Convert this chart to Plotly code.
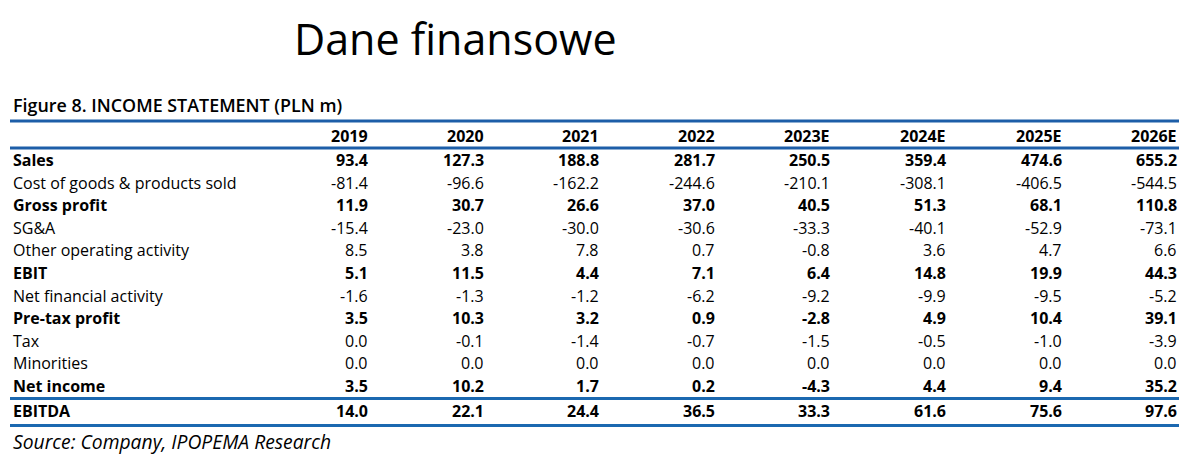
import plotly.graph_objects as go

# table contents
years = ["2019", "2020", "2021", "2022", "2023E", "2024E", "2025E", "2026E"]
labels = ["Sales", "Cost of goods & products sold", "Gross profit", "SG&A",
          "Other operating activity", "EBIT", "Net financial activity",
          "Pre-tax profit", "Tax", "Minorities", "Net income", "EBITDA"]
bold_rows = ["Sales", "Gross profit", "EBIT", "Pre-tax profit", "Net income", "EBITDA"]

sales = [93.4, 127.3, 188.8, 281.7, 250.5, 359.4, 474.6, 655.2]
cogs = [-81.4, -96.6, -162.2, -244.6, -210.1, -308.1, -406.5, -544.5]
gross_profit = [11.9, 30.7, 26.6, 37.0, 40.5, 51.3, 68.1, 110.8]
sga = [-15.4, -23.0, -30.0, -30.6, -33.3, -40.1, -52.9, -73.1]
other_op = [8.5, 3.8, 7.8, 0.7, -0.8, 3.6, 4.7, 6.6]
ebit = [5.1, 11.5, 4.4, 7.1, 6.4, 14.8, 19.9, 44.3]
net_fin = [-1.6, -1.3, -1.2, -6.2, -9.2, -9.9, -9.5, -5.2]
pretax = [3.5, 10.3, 3.2, 0.9, -2.8, 4.9, 10.4, 39.1]
tax = [0.0, -0.1, -1.4, -0.7, -1.5, -0.5, -1.0, -3.9]
minorities = [0.0, 0.0, 0.0, 0.0, 0.0, 0.0, 0.0, 0.0]
net_income = [3.5, 10.2, 1.7, 0.2, -4.3, 4.4, 9.4, 35.2]
ebitda = [14.0, 22.1, 24.4, 36.5, 33.3, 61.6, 75.6, 97.6]

rows = [sales, cogs, gross_profit, sga, other_op, ebit, net_fin,
        pretax, tax, minorities, net_income, ebitda]

W, H = 1187, 464
OFF = 8  # page body margin, the div starts at (8, 8)
FONT = "Open Sans"
BLUE = "#1b68b0"

col_right = [370 + i * 115.6 for i in range(len(years))]
header_y = 136
row_y = [160 + i * 22.6 for i in range(len(labels))]
row_y[-1] += 2

fig = go.Figure()
ann = []

ann.append(dict(x=455, y=38, text="Dane finansowe", xanchor="center", yanchor="middle",
                font=dict(family=FONT, size=43, color="black")))
ann.append(dict(x=11, y=105, text="Figure 8. INCOME STATEMENT (PLN m)", xanchor="left",
                yanchor="middle", font=dict(family=FONT, size=17.9, color="black", weight=600)))

for x, yr in zip(col_right, years):
    ann.append(dict(x=x, y=header_y, text=yr, xanchor="right", yanchor="middle",
                    font=dict(family=FONT, size=16, color="black", weight="bold")))

for lab, vals, y in zip(labels, rows, row_y):
    b = lab in bold_rows
    f = dict(family=FONT, size=16, color="black", weight="bold" if b else "normal")
    ann.append(dict(x=11, y=y, text=lab.replace("&", "&amp;"), xanchor="left",
                    yanchor="middle", font=f))
    for x, v in zip(col_right, vals):
        ann.append(dict(x=x, y=y, text=f"{v:.1f}", xanchor="right", yanchor="middle", font=f))

ann.append(dict(x=11, y=441, text="Source: Company, IPOPEMA Research", xanchor="left",
                yanchor="middle", font=dict(family=FONT, size=19.3, color="black", style="italic")))

for a in ann:
    a.update(xref="x", yref="y", showarrow=False)

shapes = []
for y, c in zip([121, 148, 398.5, 425.5], ["#1d5ea8", "#1d5ea8", BLUE, BLUE]):
    shapes.append(dict(type="line", xref="x", yref="y", x0=10, x1=1180, y0=y, y1=y,
                       line=dict(color=c, width=3)))

fig.update_layout(
    width=W - OFF, height=H - OFF,
    margin=dict(l=0, r=0, t=0, b=0),
    paper_bgcolor="white", plot_bgcolor="white",
    xaxis=dict(range=[OFF, W], visible=False, fixedrange=True),
    yaxis=dict(range=[H, OFF], visible=False, fixedrange=True),
    annotations=ann, shapes=shapes, showlegend=False,
)

fig.write_html("out.html", config={"displayModeBar": False})
